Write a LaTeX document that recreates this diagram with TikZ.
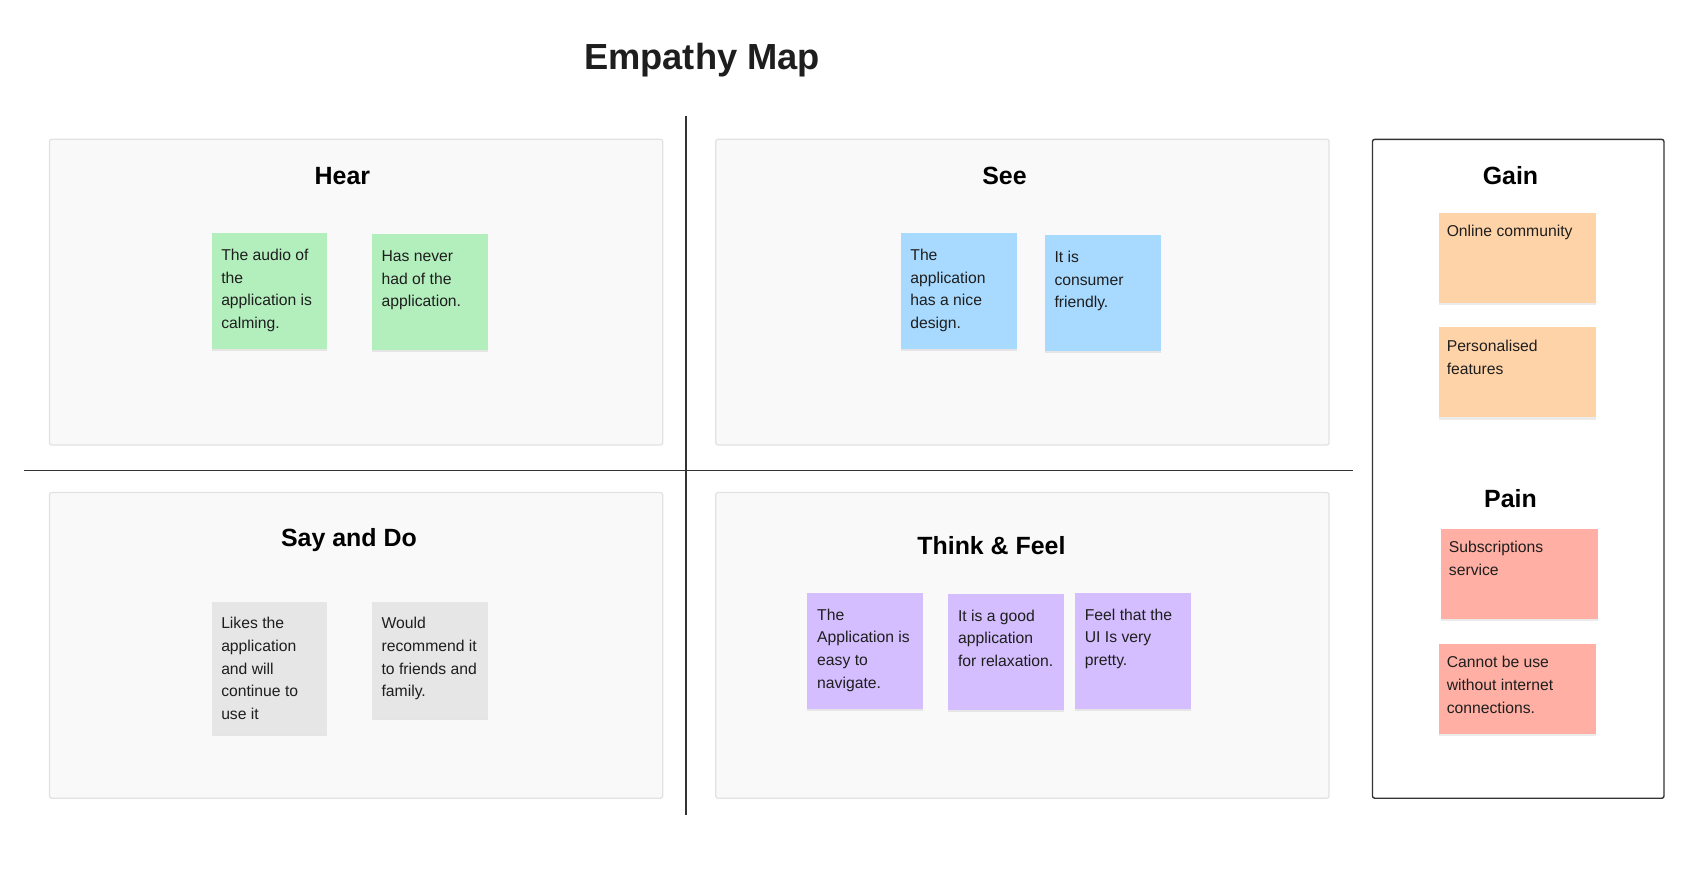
\documentclass[tikz,border=0pt]{standalone}
\usepackage{fontspec}
\setmainfont{Liberation Sans}
\usetikzlibrary{shadows}
\definecolor{secfill}{HTML}{F9F9F9}
\definecolor{secline}{HTML}{E2E2E2}
\definecolor{txt}{HTML}{1E1E1E}
\definecolor{divc}{HTML}{333333}
\definecolor{cgreen}{HTML}{B3EFBD}
\definecolor{cblue}{HTML}{A8DAFF}
\definecolor{cgray}{HTML}{E6E6E6}
\definecolor{cpurple}{HTML}{D4BEFF}
\definecolor{corange}{HTML}{FFD3A8}
\definecolor{cred}{HTML}{FFAFA3}
\begin{document}
\begin{tikzpicture}[x=1pt,y=-1pt,
  section/.style={draw=secline, fill=secfill, line width=1.2pt, rounded corners=2pt,
    anchor=north west, inner sep=0, minimum width=566pt, minimum height=282pt},
  gpbox/.style={draw=divc, fill=white, line width=1.3pt, rounded corners=2pt,
    anchor=north west, inner sep=0, minimum width=269pt, minimum height=608pt},
  divider/.style={draw=divc, line width=1.3pt},
  sticky/.style={anchor=north west, inner sep=0, minimum width=107pt, minimum height=107pt,
    drop shadow={shadow xshift=0pt, shadow yshift=-2pt, opacity=0.08, fill=black}},
  widenote/.style={sticky, minimum width=145pt, minimum height=83pt},
  notetext/.style={anchor=north west, inner sep=0, align=left, text=txt,
    font=\fontsize{14.5}{21}\selectfont, xshift=9pt, yshift=-10.3pt},
  head/.style={anchor=base, inner sep=0, text=black, font=\fontsize{23}{28}\selectfont\bfseries},
  titlestyle/.style={anchor=base, inner sep=0, text=txt, font=\fontsize{33.5}{40}\selectfont\bfseries}
]
\useasboundingbox (0,0) rectangle (1568,803);

% title
\node[titlestyle] (title) at (648,64) {Empathy Map};

% quadrant boxes
\node[section] (hear) at (45,128) {};
\node[section] (see) at (660,128) {};
\node[section] (say) at (45,454) {};
\node[section] (think) at (660,454) {};
\node[gpbox] (gp) at (1266,128) {};

% dividers
\coordinate (vtop) at (633,107);
\coordinate (vbot) at (633,752);
\coordinate (hleft) at (22,434);
\coordinate (hright) at (1249,434);
\draw[divider] (vtop) -- (vbot);
\draw[divider] (hleft) -- (hright);

% headers
\node[head] (hearT) at (316,170) {Hear};
\node[head] (seeT) at (927,170) {See};
\node[head] (sayT) at (322,504) {Say and Do};
\node[head] (thinkT) at (915,512) {Think \& Feel};
\node[head] (gainT) at (1394,170) {Gain};
\node[head] (painT) at (1394,468) {Pain};

% Hear notes
\node[sticky, fill=cgreen] (h1) at (195,215) {};
\node[notetext] (h1t) at (h1.north west) {\strut The audio of\\the\\application is\\calming.};
\node[sticky, fill=cgreen] (h2) at (343,216) {};
\node[notetext] (h2t) at (h2.north west) {\strut Has never\\had of the\\application.};

% See notes
\node[sticky, fill=cblue] (s1) at (831,215) {};
\node[notetext] (s1t) at (s1.north west) {\strut The\\application\\has a nice\\design.};
\node[sticky, fill=cblue] (s2) at (964,217) {};
\node[notetext] (s2t) at (s2.north west) {\strut It is\\consumer\\friendly.};

% Say and Do notes
\node[sticky, fill=cgray, minimum height=122pt] (d1) at (195,555) {};
\node[notetext] (d1t) at (d1.north west) {\strut Likes the\\application\\and will\\continue to\\use it};
\node[sticky, fill=cgray] (d2) at (343,555) {};
\node[notetext] (d2t) at (d2.north west) {\strut Would\\recommend it\\to friends and\\family.};

% Think & Feel notes
\node[sticky, fill=cpurple] (t1) at (745,547) {};
\node[notetext] (t1t) at (t1.north west) {\strut The\\Application is\\easy to\\navigate.};
\node[sticky, fill=cpurple] (t2) at (875,548) {};
\node[notetext] (t2t) at (t2.north west) {\strut It is a good\\application\\for relaxation.};
\node[sticky, fill=cpurple] (t3) at (992,547) {};
\node[notetext] (t3t) at (t3.north west) {\strut Feel that the\\UI Is very\\pretty.};

% Gain notes
\node[widenote, fill=corange] (g1) at (1328,196) {};
\node[notetext, xshift=-2pt, yshift=3pt] (g1t) at (g1.north west) {\strut Online community};
\node[widenote, fill=corange] (g2) at (1328,302) {};
\node[notetext, xshift=-2pt, yshift=3pt] (g2t) at (g2.north west) {\strut Personalised\\features};

% Pain notes
\node[widenote, fill=cred] (p1) at (1330,488) {};
\node[notetext, xshift=-2pt, yshift=3pt] (p1t) at (p1.north west) {\strut Subscriptions\\service};
\node[widenote, fill=cred] (p2) at (1328,594) {};
\node[notetext, xshift=-2pt, yshift=3pt] (p2t) at (p2.north west) {\strut Cannot be use\\without internet\\connections.};
\end{tikzpicture}
\end{document}
